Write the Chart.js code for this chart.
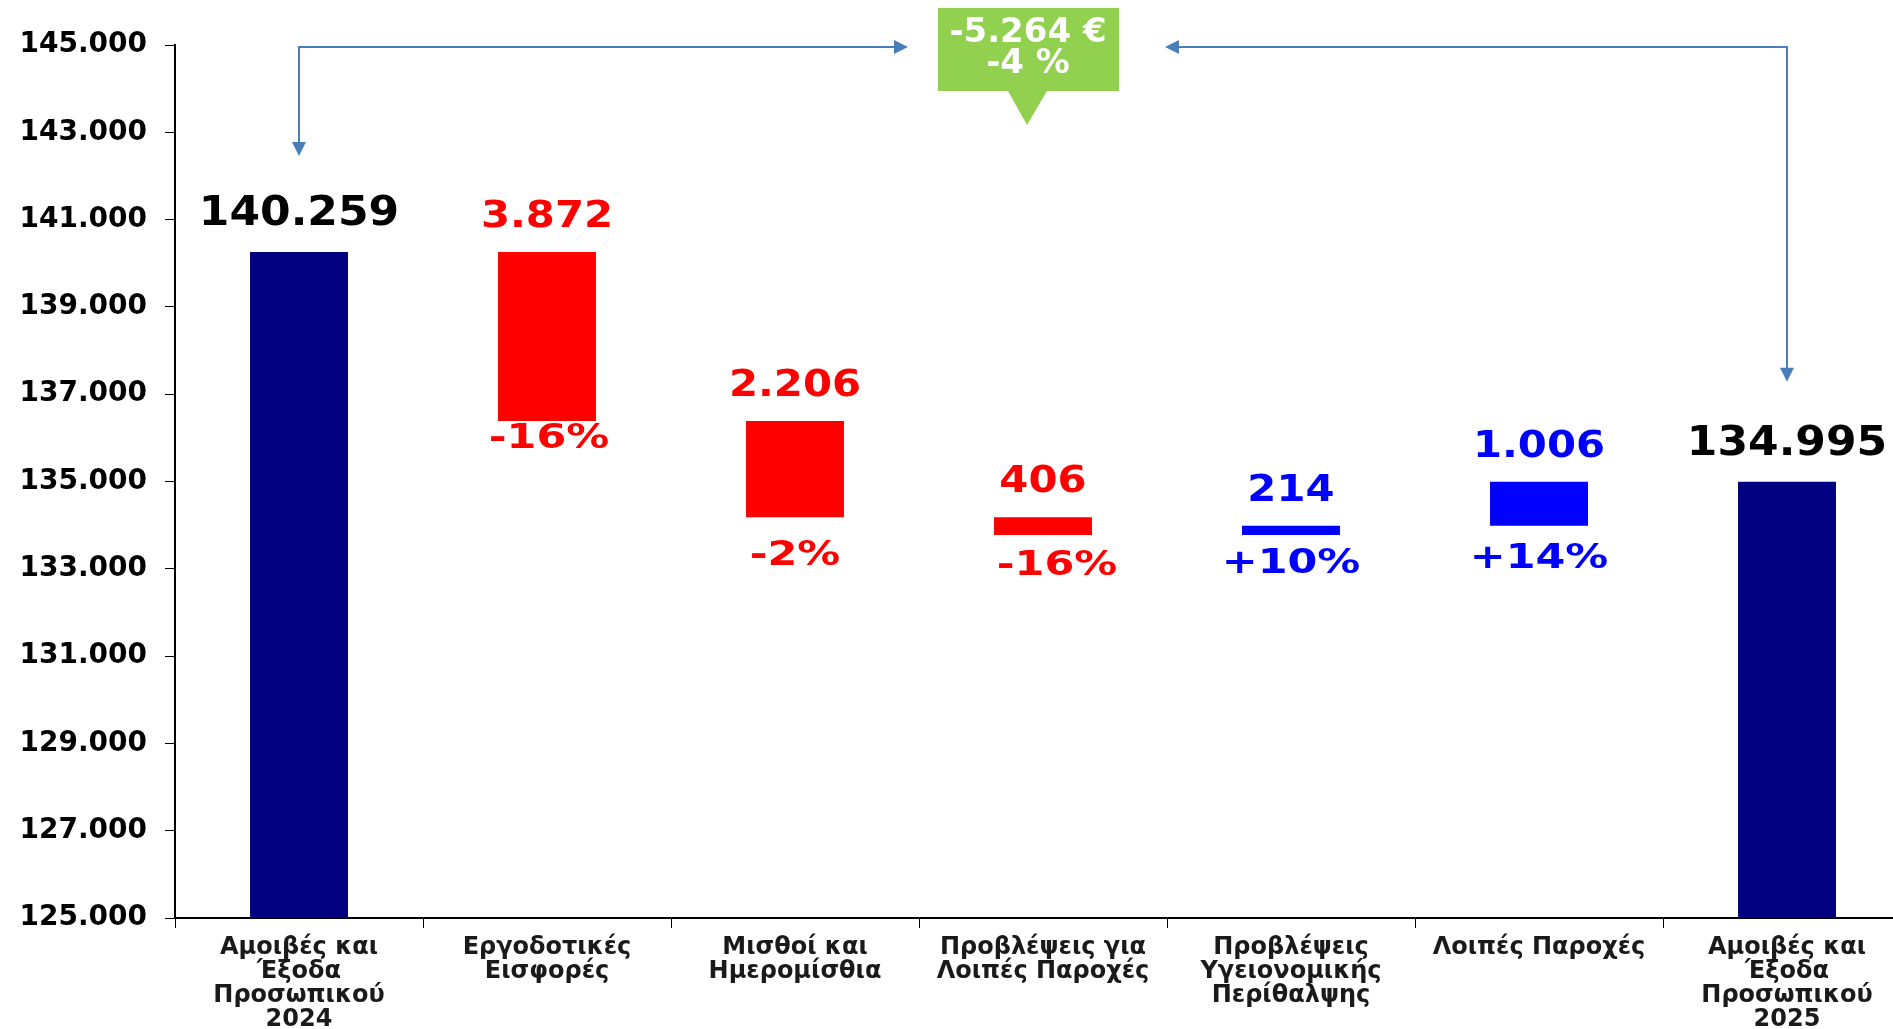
<!DOCTYPE html>
<html>
<head>
<meta charset="utf-8">
<script src="https://cdn.jsdelivr.net/npm/chart.js@4"></script>
<style>
  html, body { margin: 0; padding: 0; background: #fff; overflow: hidden; }
  #chart-container { width: 1911px; height: 1029px; }
</style>
</head>
<body>
<div id="chart-container"><canvas id="chart" width="1911" height="1029"></canvas></div>
<script>
var categories = [
  ['Αμοιβές και', 'Έξοδα', 'Προσωπικού', '2024'],
  ['Εργοδοτικές', 'Εισφορές'],
  ['Μισθοί και', 'Ημερομίσθια'],
  ['Προβλέψεις για', 'Λοιπές Παροχές'],
  ['Προβλέψεις', 'Υγειονομικής', 'Περίθαλψης'],
  ['Λοιπές Παροχές'],
  ['Αμοιβές και', 'Έξοδα', 'Προσωπικού', '2025']
];
var startTotal = 140259;
var changes = [-3872, -2206, -406, 214, 1006];
var endTotal = 134995;
var changePercents = ['-16%', '-2%', '-16%', '+10%', '+14%'];
var diffLabels = ['-5.264 €', '-4 %'];
var yMin = 125000;
var yMax = 145000;
var yStep = 2000;

var FONT = "'DejaVu Sans', Verdana, sans-serif";
var NAVY = '#000080';
var RED = '#ff0000';
var BLUE = '#0000ff';
var ARROW = '#4a7ebb';

// floating bars: totals sit on the axis floor, changes hang from the running level
var ranges = [[yMin, startTotal]];
var colors = [NAVY];
var level = startTotal;
changes.forEach(function(c) {
  ranges.push([level, level + c]);
  colors.push(c < 0 ? RED : BLUE);
  level += c;
});
ranges.push([yMin, endTotal]);
colors.push(NAVY);

// where the percent labels sit under each change bar (px)
var pctDrop = [18, 39, 31, 29, 34];
var pctShift = [2, 0, 14, 0, 0];

function formatNumber(v) {
  return String(Math.round(v)).replace(/\B(?=(\d{3})+(?!\d))/g, '.');
}

function stretchText(ctx, text, x, y, size, color, sx) {
  ctx.save();
  ctx.translate(x, y);
  ctx.scale(sx, 1);
  ctx.font = 'bold ' + size + 'px ' + FONT;
  ctx.fillStyle = color;
  ctx.textAlign = 'center';
  ctx.textBaseline = 'middle';
  ctx.fillText(text, 0, 0);
  ctx.restore();
}

function arrowHead(ctx, x, y, dir) {
  var l = 14, w = 7;
  ctx.beginPath();
  ctx.moveTo(x, y);
  if (dir === 'down') { ctx.lineTo(x - w, y - l); ctx.lineTo(x + w, y - l); }
  if (dir === 'right') { ctx.lineTo(x - l, y - w); ctx.lineTo(x - l, y + w); }
  if (dir === 'left') { ctx.lineTo(x + l, y - w); ctx.lineTo(x + l, y + w); }
  ctx.closePath();
  ctx.fill();
}

var waterfallPlugin = {
  id: 'waterfall',
  afterDatasetsDraw: function(chart) {
    var ctx = chart.ctx;
    var bars = chart.getDatasetMeta(0).data;
    var last = bars.length - 1;

    bars.forEach(function(bar, i) {
      var top = Math.min(bar.y, bar.base);
      var bottom = Math.max(bar.y, bar.base);
      if (i === 0 || i === last) {
        var total = i === 0 ? startTotal : endTotal;
        stretchText(ctx, formatNumber(total), bar.x, top - 37, 40, '#000', 1.1);
      } else {
        var c = changes[i - 1];
        var col = c < 0 ? RED : BLUE;
        stretchText(ctx, formatNumber(Math.abs(c)), bar.x, top - 35, 38, col, 1.1);
        stretchText(ctx, changePercents[i - 1], bar.x + pctShift[i - 1], bottom + pctDrop[i - 1], 33, col, 1.3);
      }
    });

    // bracket arrows between the two totals
    var x0 = bars[0].x, x1 = bars[last].x;
    var top0 = Math.min(bars[0].y, bars[0].base);
    var top1 = Math.min(bars[last].y, bars[last].base);
    var lineY = chart.scales.y.getPixelForValue(yMax) + 2;
    var cx = (x0 + x1) / 2 - 15;

    ctx.save();
    ctx.strokeStyle = ARROW;
    ctx.fillStyle = ARROW;
    ctx.lineWidth = 2;
    ctx.beginPath();
    ctx.moveTo(x0, top0 - 96 - 10);
    ctx.lineTo(x0, lineY);
    ctx.lineTo(cx - 120 - 10, lineY);
    ctx.moveTo(cx + 137 + 10, lineY);
    ctx.lineTo(x1, lineY);
    ctx.lineTo(x1, top1 - 100 - 10);
    ctx.stroke();
    arrowHead(ctx, x0, top0 - 96, 'down');
    arrowHead(ctx, cx - 120, lineY, 'right');
    arrowHead(ctx, cx + 137, lineY, 'left');
    arrowHead(ctx, x1, top1 - 100, 'down');

    // green callout
    ctx.fillStyle = '#92d050';
    ctx.beginPath();
    ctx.moveTo(cx - 90, 8);
    ctx.lineTo(cx + 91, 8);
    ctx.lineTo(cx + 91, 91);
    ctx.lineTo(cx + 19, 91);
    ctx.lineTo(cx - 1, 125);
    ctx.lineTo(cx - 20, 91);
    ctx.lineTo(cx - 90, 91);
    ctx.closePath();
    ctx.fill();
    ctx.restore();
    stretchText(ctx, diffLabels[0], cx, 33, 33, '#fff', 1.03);
    stretchText(ctx, diffLabels[1], cx, 64, 33, '#fff', 1.03);
  }
};

var ctx = document.getElementById('chart').getContext('2d');
var chart = new Chart(ctx, {
  type: 'bar',
  data: {
    labels: categories,
    datasets: [{
      data: ranges,
      backgroundColor: colors,
      borderWidth: 0,
      categoryPercentage: 1,
      barPercentage: 0.395
    }]
  },
  options: {
    responsive: false,
    animation: false,
    layout: { padding: { top: 45, right: 0, bottom: 0, left: 0 } },
    plugins: { legend: { display: false }, tooltip: { enabled: false } },
    scales: {
      x: {
        grid: { drawOnChartArea: false, drawTicks: true, tickLength: 10, color: '#000', offset: true },
        border: { color: '#000', width: 2 },
        ticks: {
          color: '#1a1a1a',
          maxRotation: 0,
          autoSkip: false,
          padding: 8,
          font: { family: FONT, size: 24, weight: 'bold', lineHeight: 1.0 }
        },
        afterFit: function(scale) { scale.height = 111; }
      },
      y: {
        min: yMin,
        max: yMax,
        grid: { drawOnChartArea: false, drawTicks: true, tickLength: 10, color: '#000' },
        border: { color: '#000', width: 2 },
        ticks: {
          stepSize: yStep,
          color: '#000',
          padding: 18,
          font: { family: FONT, size: 28, weight: 'bold' },
          callback: function(v) { return formatNumber(v); }
        },
        afterFit: function(scale) { scale.width = 175; }
      }
    }
  },
  plugins: [waterfallPlugin]
});
</script>
</body>
</html>
